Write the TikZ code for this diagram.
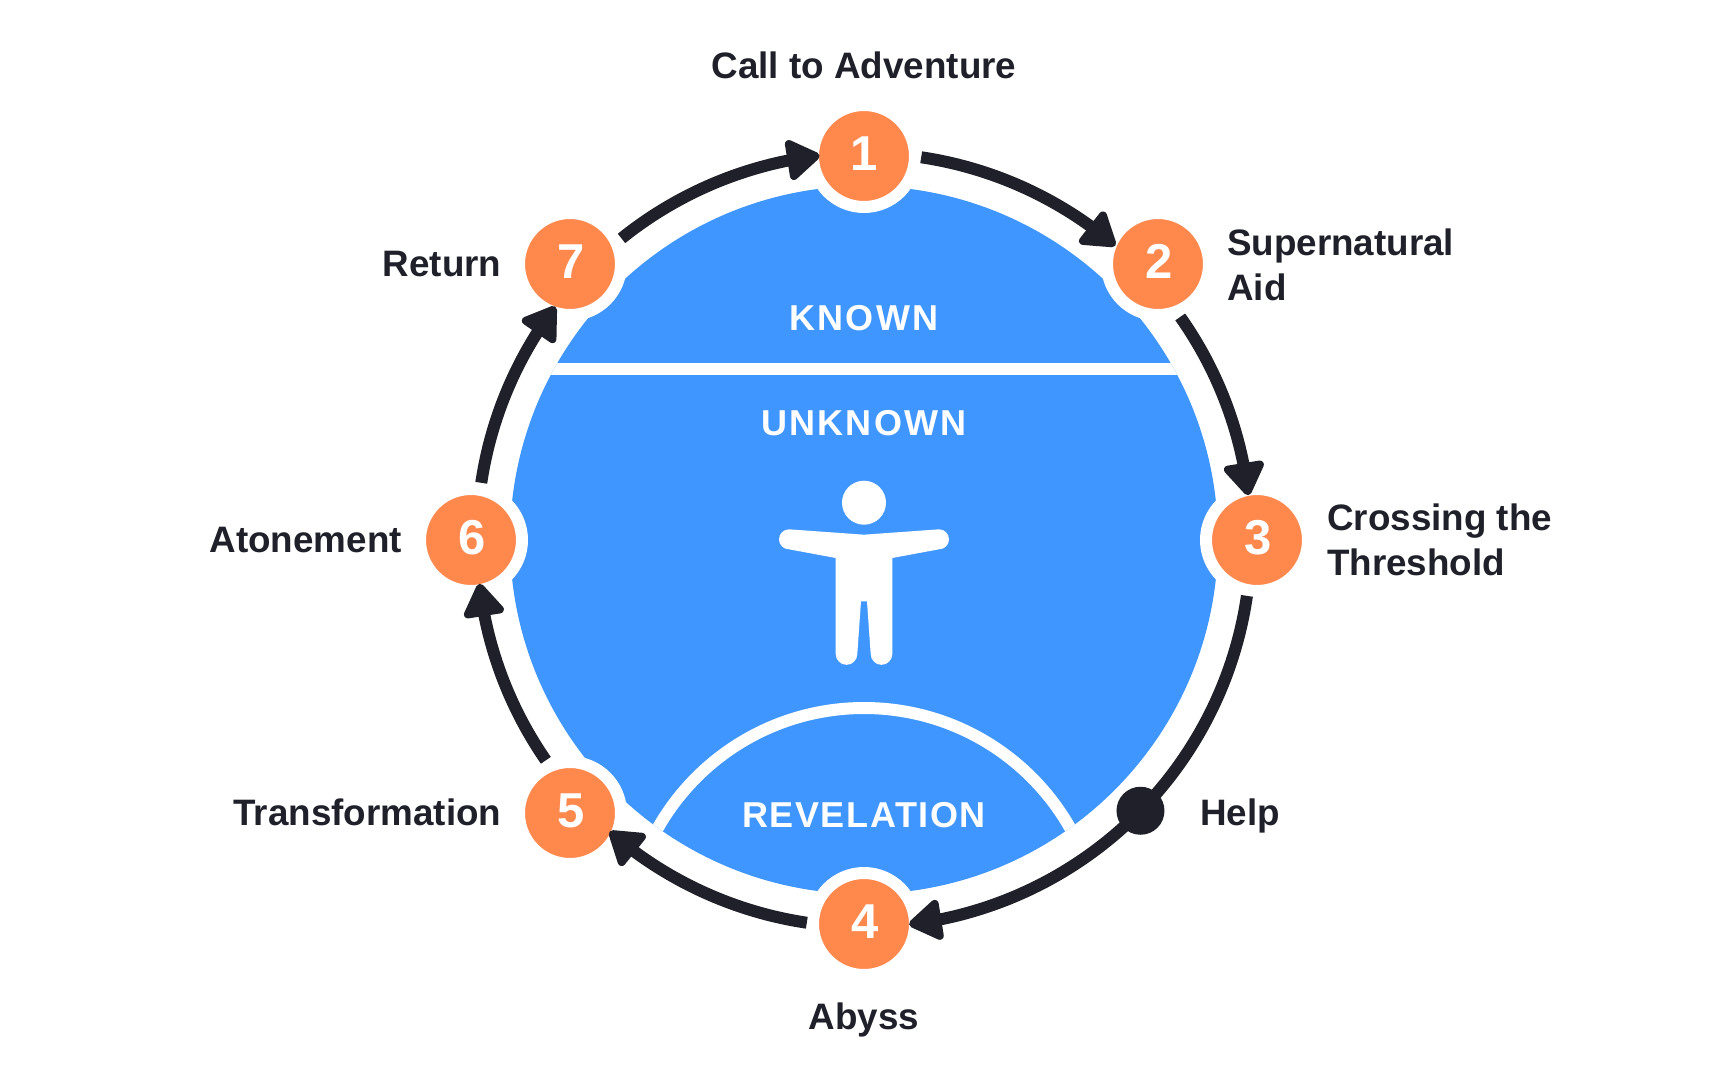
\documentclass[tikz,border=0pt]{standalone}
\usepackage{fontspec}
\setmainfont{Liberation Sans}
\newfontfamily\capsfont[LetterSpace=6]{Liberation Sans}
\newfontfamily\capsfontb[LetterSpace=4.5]{Liberation Sans}
\usetikzlibrary{arrows.meta,bending}
\definecolor{ink}{HTML}{1F2029}
\definecolor{sky}{HTML}{4096FF}
\definecolor{peach}{HTML}{FF884D}
\newcommand{\dgt}[1]{\hspace*{3pt}#1}
\tikzset{
  stepdot/.style={circle,fill=peach,draw=white,line width=12pt,minimum size=102pt,inner sep=0pt,outer sep=0pt,
    text=white,text depth=5pt,font=\fontsize{49}{49}\selectfont\bfseries},
  helpdot/.style={circle,fill=ink,minimum size=48pt,inner sep=0pt,outer sep=0pt},
  lbl/.style={text=ink,inner sep=0pt,align=left,font=\fontsize{36.8}{45}\selectfont\bfseries},
  zone/.style={text=white,inner sep=0pt,font=\fontsize{36}{36}\selectfont\capsfont\bfseries},
  flowarc/.style={draw=ink,line width=12pt,line cap=butt,-{Triangle[length=36pt,width=45pt,round,line width=8pt,flex]}},
  flowplain/.style={draw=ink,line width=12pt,line cap=butt},
}
\begin{document}
\begin{tikzpicture}[x=1pt,y=1pt]
\useasboundingbox (-864,-540) rectangle (864,540);
% blue disc with dividing lines
\fill[sky] (0,0) circle[radius=354pt];
\begin{scope}
  \clip (0,0) circle[radius=354pt];
  \fill[white] (-360,165) rectangle (360,177);
  \draw[white,line width=12pt] (0,-405) circle[radius=237pt];
\end{scope}
% figure
\fill[white] (0,37.3) circle[radius=22pt];
\fill[white] (0,5.3) -- (75,10.7) arc[start angle=90,end angle=-90,radius=10pt]
  -- (28.3,-18) -- (28.3,-114) arc[start angle=0,end angle=-180,radius=10.8pt]
  -- (3,-61.3) -- (-3,-61.3) -- (-6.7,-114) arc[start angle=0,end angle=-180,radius=10.8pt]
  -- (-28.3,-18) -- (-75,-9.3) arc[start angle=-90,end angle=-270,radius=10pt] -- cycle;
% zone labels
\node[zone] (known) at (0,221.5) {KNOWN};
\node[zone] (unknown) at (0,116.5) {UNKNOWN};
\node[zone,font=\fontsize{36}{36}\selectfont\capsfontb\bfseries] (revel) at (0,-275) {REVELATION};
% step nodes
\node[stepdot] (n1) at (0,384) {1};
\node[stepdot] (n2) at (294,276) {\dgt{2}};
\node[stepdot] (n3) at (393,0) {\dgt{3}};
\node[stepdot] (n4) at (0,-384) {\dgt{4}};
\node[stepdot] (n5) at (-294,-273) {\dgt{5}};
\node[stepdot] (n6) at (-393,0) {\dgt{6}};
\node[stepdot] (n7) at (-294,276) {\dgt{7}};
% connector start points
\coordinate (s12) at (81.5:387);
\coordinate (s23) at (35.2:387);
\coordinate (s3h) at (-8.3:387);
\coordinate (h4) at (-44.4:387);
\coordinate (s45) at (-98.5:387);
\coordinate (s56) at (-145.3:387);
\coordinate (s67) at (171.5:387);
\coordinate (s71) at (128.8:387);
% connectors
\draw[flowarc] (s12) arc[start angle=81.5,end angle=49.5,radius=387pt];
\draw[flowarc] (s23) arc[start angle=35.2,end angle=6.65,radius=387pt];
\draw[flowplain] (s3h) arc[start angle=-8.3,end angle=-44.4,radius=387pt];
\draw[flowarc] (h4) arc[start angle=-44.4,end angle=-83.3,radius=387pt];
\draw[flowarc] (s45) arc[start angle=-98.5,end angle=-131.1,radius=387pt];
\draw[flowarc] (s56) arc[start angle=-145.3,end angle=-173.5,radius=387pt];
\draw[flowarc] (s67) arc[start angle=171.5,end angle=142.9,radius=387pt];
\draw[flowarc] (s71) arc[start angle=128.8,end angle=96.6,radius=387pt];
\node[helpdot] (help) at (h4) {};
% text labels
\node[lbl] (l1) at (0,475) {Call to Adventure};
\node[lbl,anchor=west] (l2) at (363,275) {Supernatural\\Aid};
\node[lbl,anchor=west] (l3) at (463,0) {Crossing the\\Threshold};
\node[lbl,anchor=west] (lh) at (336,-275.5) {Help};
\node[lbl] (l4) at (0,-479.5) {Abyss};
\node[lbl,anchor=east] (l5) at (-362.5,-272) {Transformation};
\node[lbl,anchor=east] (l6) at (-462,0) {Atonement};
\node[lbl,anchor=east] (l7) at (-362.5,276) {Return};
\end{tikzpicture}
\end{document}
